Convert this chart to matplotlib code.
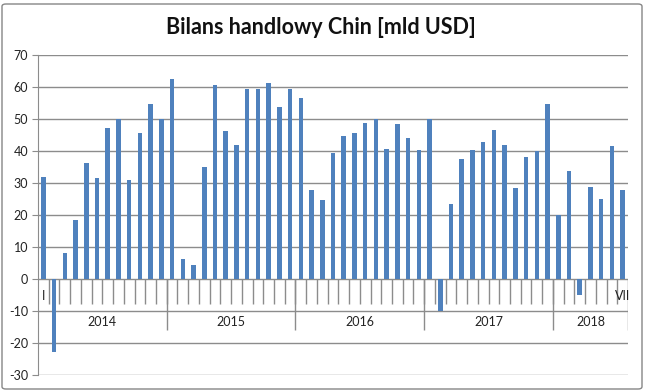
import matplotlib
matplotlib.use("Agg")
import matplotlib.pyplot as plt
from matplotlib.patches import FancyBboxPatch
import numpy as np

title = "Bilans handlowy Chin [mld USD]"
years = ["2014", "2015", "2016", "2017", "2018"]
months_per_year = [12, 12, 12, 12, 7]
first_month_label = "I"
last_month_label = "VII"
values = [
    32.0, -22.9, 8.0, 18.5, 36.2, 31.6, 47.1, 49.9, 31.0, 45.6, 54.7, 50.0,
    62.6, 6.1, 4.3, 35.0, 60.6, 46.2, 41.8, 59.4, 59.4, 61.3, 53.8, 59.4,
    56.5, 27.9, 24.7, 39.4, 44.6, 45.6, 48.6, 50.0, 40.7, 48.3, 44.0, 40.4,
    50.0, -10.0, 23.5, 37.5, 40.4, 42.9, 46.5, 41.9, 28.3, 38.0, 40.1, 54.7,
    20.1, 33.7, -5.0, 28.6, 25.0, 41.6, 27.9,
]
yticks = list(range(-30, 71, 10))

W, H = 645, 392
fig = plt.figure(figsize=(W / 100, H / 100), dpi=100)
fig.patch.set_facecolor("white")
font = ["Lato", "DejaVu Sans"]

# outer chart border
fig.patches.append(FancyBboxPatch((2 / W, 3 / H), 640 / W, 385 / H,
                                  boxstyle="round,pad=0,rounding_size=0.006",
                                  transform=fig.transFigure, fill=False,
                                  edgecolor="#868686", linewidth=1.0))

ax = fig.add_axes([38 / W, 1 - 375 / H, 590 / W, 320 / H])
n = len(values)
x = np.arange(n) + 0.5
grid_c = "#8c8c8c"

ax.set_xlim(0, n)
ax.set_ylim(-30, 70)
ax.set_yticks(yticks)
ax.set_yticklabels([str(v) for v in yticks], fontsize=9, family=font)
for t in yticks:
    ax.axhline(t, color=grid_c, linewidth=1.0, zorder=0.5)

ax.bar(x, values, width=0.42, color="#4F81BD", zorder=2)

# category axis ticks (months) and year separators
ax.vlines(np.arange(1, n), -7.7, 0, color=grid_c, linewidth=1.0, zorder=1)
bounds = np.concatenate([[0], np.cumsum(months_per_year)])
ax.vlines(bounds[1:], -16, 0, color=grid_c, linewidth=1.0, zorder=1)
for i, yr in enumerate(years):
    ax.text((bounds[i] + bounds[i + 1]) / 2, -13.3, yr, ha="center", va="center",
            fontsize=9, family=font, color="#222222")
ax.text(0.5, -5.2, first_month_label, ha="center", va="center", fontsize=9,
        family=font, color="#222222")
ax.text(n - 0.5, -5.2, last_month_label, ha="center", va="center", fontsize=9,
        family=font, color="#222222")

ax.set_xticks([])
for s in ["top", "right", "bottom"]:
    ax.spines[s].set_visible(False)
ax.spines["left"].set_color(grid_c)
ax.tick_params(axis="y", length=4, color=grid_c, pad=3, labelcolor="#222222")

fig.text(321 / W, 1 - 27 / H, title, ha="center", va="center", fontsize=15.5,
         fontweight="bold", family=font, color="#111111")

fig.savefig("out.png", dpi=100)
